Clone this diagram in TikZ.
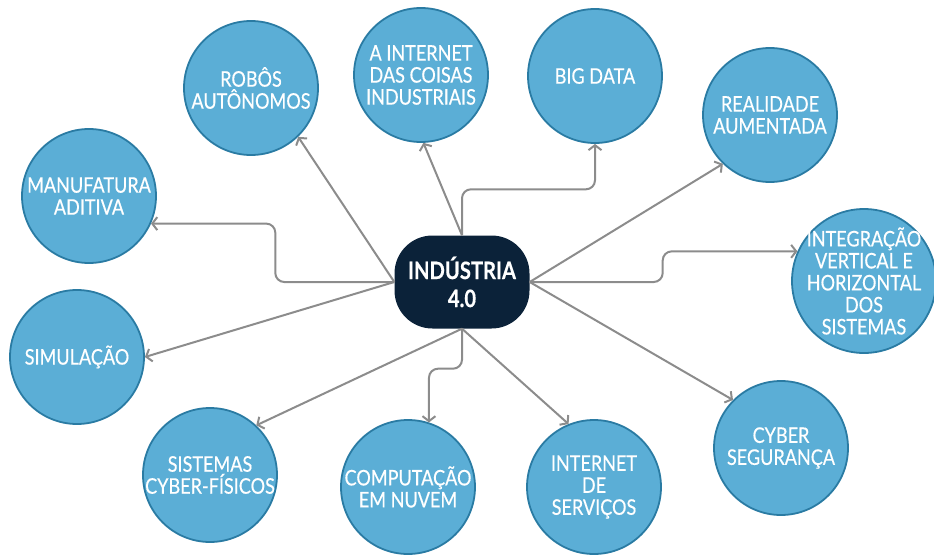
\documentclass[tikz,border=0pt]{standalone}
\usepackage{fontspec}
\setmainfont{Lato}[FakeStretch=0.84,FakeBold=0.4]
\usetikzlibrary{arrows.meta}
\definecolor{topicblue}{HTML}{5BAED6}
\definecolor{topicline}{HTML}{2A7BA3}
\definecolor{hubnavy}{HTML}{0B2239}
\definecolor{linkgray}{HTML}{8C8C8C}
\tikzset{
  topic/.style={circle,draw=topicline,line width=1.8pt,fill=topicblue,
    minimum size=134pt,inner sep=0pt},
  topictext/.style={text=white,align=center,inner sep=0pt,
    font=\fontsize{21.5}{22}\selectfont},
  hub/.style={rectangle,rounded corners=38pt,fill=hubnavy,text=white,
    minimum width=135pt,minimum height=93pt,align=center,
    font=\fontsize{24}{28}\selectfont\bfseries},
  link/.style={draw=linkgray,line width=2pt,rounded corners=9pt,
    -{Straight Barb[length=5pt,width=13pt]}}
}
\begin{document}
\begin{tikzpicture}[x=1pt,y=-1pt]
      \useasboundingbox (0,0) rectangle (934,554);
      \draw
        (462,282) node[hub] (hub) {INDÚSTRIA\\4.0}
        (251,88) node[topic,label={[topictext]center:{ROBÔS\\AUTÔNOMOS}}] (robos) {}
        (421,75) node[topic,label={[topictext]center:{A INTERNET\\DAS COISAS\\INDUSTRIAIS}}] (iiot) {}
        (595,76) node[topic,label={[topictext]center:{BIG DATA}}] (bigdata) {}
        (770,115) node[topic,label={[topictext]center:{REALIDADE\\AUMENTADA}}] (realidade) {}
        (89,196) node[topic,label={[topictext]center:{MANUFATURA\\ADITIVA}}] (manufatura) {}
        (864,281) node[topic,minimum size=144pt,label={[topictext]center:{INTEGRAÇÃO\\VERTICAL E\\HORIZONTAL\\DOS\\SISTEMAS}}] (integracao) {}
        (77,357) node[topic,label={[topictext]center:{SIMULAÇÃO}}] (simulacao) {}
        (210,475) node[topic,label={[topictext]center:{SISTEMAS\\CYBER-FÍSICOS}}] (cps) {}
        (408,487) node[topic,label={[topictext]center:{COMPUTAÇÃO\\EM NUVEM}}] (nuvem) {}
        (594,487) node[topic,label={[topictext]center:{INTERNET\\DE\\SERVIÇOS}}] (servicos) {}
        (781,448) node[topic,label={[topictext]center:{CYBER\\SEGURANÇA}}] (seguranca) {};
      \begin{scope}[link]
        \draw (hub.west) -- (robos.-46);
        \draw (hub.north) -- (iiot.-88);
        \draw (hub.north) -- ++(0,-46) -| (bigdata.south);
        \draw (hub.east) -- (realidade.-134);
        \draw (hub.west) -- ++(-119,0) |- (manufatura.-24);
        \draw (hub.east) -- ++(133,0) |- (integracao.156);
        \draw (hub.west) -- (simulacao.east);
        \draw (hub.south) -- (cps.47);
        \draw (hub.south) -- ++(0,40) -| (nuvem.72);
        \draw (hub.south) -- (servicos.112);
        \draw (hub.east) -- (seguranca.135);
      \end{scope}
    \end{tikzpicture}
\end{document}
